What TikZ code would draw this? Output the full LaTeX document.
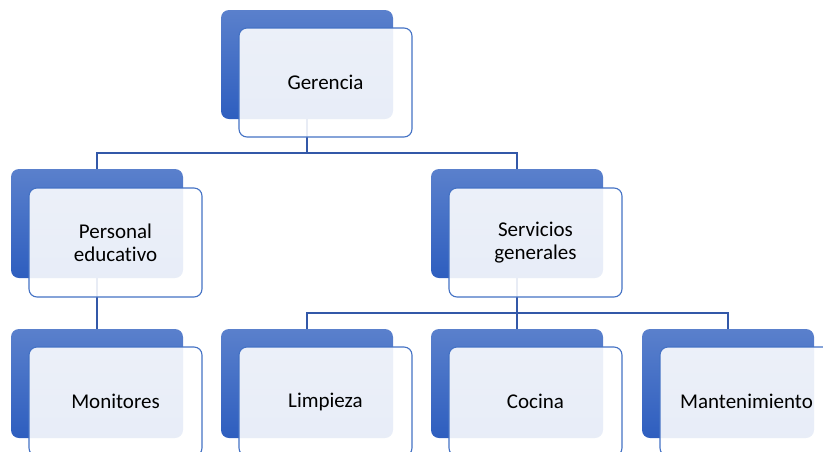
\documentclass[tikz,border=0pt]{standalone}
\usepackage{fontspec}
\setmainfont{Carlito}[Ligatures={NoCommon,NoRare},RawFeature={-liga;-dlig;-clig}]
\usetikzlibrary{backgrounds}
\definecolor{bluetop}{HTML}{5A80CC}
\definecolor{bluebot}{HTML}{2E5EBF}
\definecolor{frameblue}{HTML}{4472C4}
\definecolor{lineblue}{HTML}{3358A8}
\tikzset{
  backbox/.style={rectangle, rounded corners=8pt, minimum width=172pt, minimum height=109pt,
    inner sep=0pt, outer sep=0pt, anchor=north west, top color=bluetop, bottom color=bluebot, draw=none},
  frontbox/.style={rectangle, rounded corners=8pt, minimum width=173pt, minimum height=109pt,
    inner sep=0pt, outer sep=0pt, anchor=north west, draw=frameblue, line width=1.1pt,
    fill=white, fill opacity=0.89, text opacity=1, text=black, align=center,
    font=\fontsize{21}{22.6}\selectfont},
  conn/.style={draw=lineblue, line width=1.3pt}
}
\begin{document}
\begin{tikzpicture}[x=1pt,y=-1pt]
\useasboundingbox (0,0) rectangle (823,451);
\clip (0,0) rectangle (823,451);
% back boxes and front boxes
\node[backbox] (g) at (221,10) {};
\node[backbox] (pe) at (11,169) {};
\node[backbox] (sg) at (431,169) {};
\node[backbox] (mo) at (11,329) {};
\node[backbox] (li) at (221,329) {};
\node[backbox] (co) at (431,329) {};
\node[backbox] (ma) at (642,329) {};
\coordinate (bus1) at (307,153);
\coordinate (bus2) at (517,313);
\begin{scope}[on background layer]
\draw[conn] (g.south) -- (bus1);
\draw[conn] (pe.north) |- (bus1) -| (sg.north);
\draw[conn] (pe.south) -- (mo.north);
\draw[conn] (sg.south) -- (bus2);
\draw[conn] (li.north) |- (bus2) -| (ma.north);
\draw[conn] (bus2) -- (co.north);
\end{scope}
\node[frontbox] (gf) at (239,28) {Gerencia};
\node[frontbox] (pef) at (29,188) {Personal\\educativo};
\node[frontbox] (sgf) at (449,188) {Servicios\\generales};
\node[frontbox] (mof) at (29,347) {Monitores};
\node[frontbox] (lif) at (239,347) {Limpieza};
\node[frontbox] (cof) at (449,347) {Cocina};
\node[frontbox] (maf) at (660,347) {Mantenimiento};
\end{tikzpicture}
\end{document}
